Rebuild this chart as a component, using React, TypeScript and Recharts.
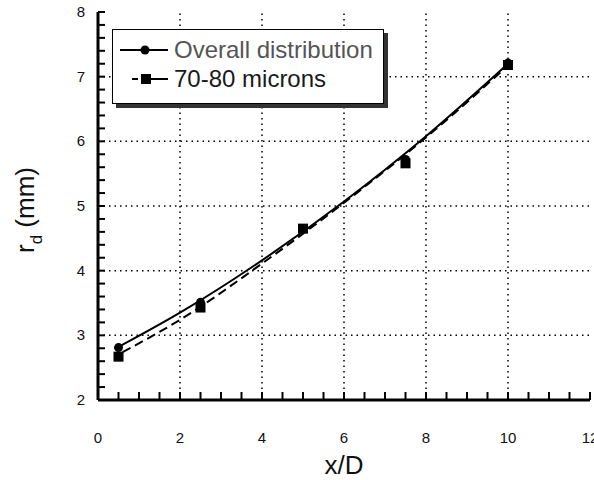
import { ComposedChart, Line, Scatter, XAxis, YAxis, ReferenceLine } from 'recharts';

// measured points
const overallPoints = [
    { x: 0.5, y: 2.81 },
    { x: 2.5, y: 3.51 },
    { x: 5, y: 4.65 },
    { x: 7.5, y: 5.72 },
    { x: 10, y: 7.21 },
];
const micronPoints = [
    { x: 0.5, y: 2.67 },
    { x: 2.5, y: 3.43 },
    { x: 5, y: 4.65 },
    { x: 7.5, y: 5.66 },
    { x: 10, y: 7.18 },
];

// fitted curves
const overallCurve = [
    { x: 0.5, y: 2.82 },
    { x: 2, y: 3.35 },
    { x: 4, y: 4.16 },
    { x: 6, y: 5.07 },
    { x: 8, y: 6.08 },
    { x: 10, y: 7.2 },
];
const micronCurve = [
    { x: 0.6, y: 2.74 },
    { x: 2, y: 3.24 },
    { x: 4, y: 4.11 },
    { x: 6, y: 5.05 },
    { x: 8, y: 6.06 },
    { x: 10, y: 7.17 },
];

const xTicks = [0, 0.5, 1, 1.5, 2, 2.5, 3, 3.5, 4, 4.5, 5, 5.5, 6, 6.5, 7, 7.5, 8, 8.5, 9, 9.5, 10, 10.5, 11, 11.5, 12];
const yTicks = [
    2, 2.2, 2.4, 2.6, 2.8, 3, 3.2, 3.4, 3.6, 3.8, 4, 4.2, 4.4, 4.6, 4.8, 5, 5.2, 5.4, 5.6, 5.8, 6, 6.2, 6.4, 6.6, 6.8, 7,
    7.2, 7.4, 7.6, 7.8, 8,
];
const xGrid = [2, 4, 6, 8, 10];
const yGrid = [3, 4, 5, 6, 7];

const font = 'Liberation Sans, Arial, sans-serif';
const isWhole = (v: number) => Math.abs(v - Math.round(v)) < 1e-6;

const BottomTick = ({ x, y, payload }: any) => (
    <g>
        <line x1={x} y1={y} x2={x} y2={y - 8} stroke="#000" strokeWidth={2} />
        {payload.value % 2 === 0 && (
            <text x={x} y={y + 43} textAnchor="middle" fontSize={15} fontFamily={font} fill="#111">
                {payload.value}
            </text>
        )}
    </g>
);

const TopTick = ({ x, y }: any) => <line x1={x} y1={y} x2={x} y2={y + 8} stroke="#000" strokeWidth={2} />;

const LeftTick = ({ x, y, payload }: any) => (
    <g>
        <line x1={x} y1={y} x2={x + 7} y2={y} stroke="#000" strokeWidth={2} />
        {isWhole(payload.value) && (
            <text x={x - 13} y={y + 5} textAnchor="end" fontSize={15} fontFamily={font} fill="#111">
                {Math.round(payload.value)}
            </text>
        )}
    </g>
);

const RightTick = ({ x, y }: any) => <line x1={x} y1={y} x2={x - 7} y2={y} stroke="#000" strokeWidth={2} />;

const YTitle = () => (
    <text transform="translate(34,210) rotate(-90)" textAnchor="middle" fontSize={26} fontFamily={font} fill="#111">
        r
        <tspan fontSize={17} dy={8}>
            d
        </tspan>
        <tspan dy={-8}> (mm)</tspan>
    </text>
);

const LegendBox = () => (
    <div
        style={{
            position: 'absolute',
            left: 112,
            top: 29,
            width: 270,
            height: 68,
            border: '1.5px solid #000',
            background: '#fff',
            boxShadow: '4px 4px 0 #333',
            fontFamily: font,
            fontSize: 24,
            lineHeight: '29px',
            paddingTop: 5,
            boxSizing: 'content-box',
        }}
    >
        <div style={{ display: 'flex', alignItems: 'center', color: '#555', height: 29 }}>
            <svg width={61} height={20} style={{ flex: 'none' }}>
                <line x1={7} y1={10} x2={55} y2={10} stroke="#000" strokeWidth={2} />
                <circle cx={32} cy={10} r={4.5} fill="#000" />
            </svg>
            <span>Overall distribution</span>
        </div>
        <div style={{ display: 'flex', alignItems: 'center', color: '#1a1a1a', height: 29 }}>
            <svg width={61} height={20} style={{ flex: 'none' }}>
                <line x1={19} y1={10} x2={25} y2={10} stroke="#000" strokeWidth={2} />
                <line x1={30} y1={10} x2={55} y2={10} stroke="#000" strokeWidth={2} />
                <rect x={28} y={5} width={10} height={10} fill="#000" />
            </svg>
            <span>70-80 microns</span>
        </div>
    </div>
);

export default function App() {
    return (
        <div style={{ position: 'absolute', left: 0, top: 0, width: 594, height: 480, background: '#fff' }}>
            <ComposedChart width={594} height={480} margin={{ top: 12, right: 4, bottom: 0, left: 0 }}>
                <XAxis
                    xAxisId="b"
                    type="number"
                    dataKey="x"
                    domain={[0, 12]}
                    ticks={xTicks}
                    interval={0}
                    height={80}
                    tickSize={0}
                    tickMargin={0}
                    tick={<BottomTick />}
                    axisLine={{ stroke: '#000', strokeWidth: 3 }}
                    allowDataOverflow
                    label={{ value: 'x/D', position: 'insideBottom', offset: 6, fontSize: 26, fontFamily: font, fill: '#111' }}
                />
                <XAxis
                    xAxisId="t"
                    orientation="top"
                    type="number"
                    dataKey="x"
                    domain={[0, 12]}
                    ticks={xTicks}
                    interval={0}
                    height={0}
                    tickSize={0}
                    tickMargin={0}
                    tick={<TopTick />}
                    axisLine={{ stroke: '#000', strokeWidth: 3 }}
                    allowDataOverflow
                />
                <YAxis
                    yAxisId="l"
                    type="number"
                    domain={[2, 8]}
                    ticks={yTicks}
                    interval={0}
                    width={98}
                    tickSize={0}
                    tickMargin={0}
                    tick={<LeftTick />}
                    axisLine={{ stroke: '#000', strokeWidth: 3 }}
                    allowDataOverflow
                    label={{ content: <YTitle /> }}
                />
                <YAxis
                    yAxisId="r"
                    orientation="right"
                    type="number"
                    domain={[2, 8]}
                    ticks={yTicks}
                    interval={0}
                    width={0}
                    tickSize={0}
                    tickMargin={0}
                    tick={<RightTick />}
                    axisLine={{ stroke: '#000', strokeWidth: 3 }}
                    allowDataOverflow
                />
                {xGrid.map((v) => (
                    <ReferenceLine key={'x' + v} x={v} xAxisId="b" yAxisId="l" stroke="#000" strokeWidth={1.5} strokeDasharray="1.5 4" />
                ))}
                {yGrid.map((v) => (
                    <ReferenceLine key={'y' + v} y={v} xAxisId="b" yAxisId="l" stroke="#000" strokeWidth={1.5} strokeDasharray="1.5 4" />
                ))}
                <Line
                    xAxisId="b"
                    yAxisId="l"
                    data={overallCurve}
                    dataKey="y"
                    type="monotone"
                    stroke="#000"
                    strokeWidth={2}
                    dot={false}
                    isAnimationActive={false}
                />
                <Line
                    xAxisId="b"
                    yAxisId="l"
                    data={micronCurve}
                    dataKey="y"
                    type="monotone"
                    stroke="#000"
                    strokeWidth={2}
                    strokeDasharray="9 5"
                    dot={false}
                    isAnimationActive={false}
                />
                <Scatter
                    xAxisId="b"
                    yAxisId="l"
                    data={overallPoints}
                    dataKey="y"
                    fill="#000"
                    shape={(p: any) => <circle cx={p.cx} cy={p.cy} r={4.5} fill="#000" />}
                    isAnimationActive={false}
                />
                <Scatter
                    xAxisId="b"
                    yAxisId="l"
                    data={micronPoints}
                    dataKey="y"
                    fill="#000"
                    shape={(p: any) => <rect x={p.cx - 5} y={p.cy - 5} width={10} height={10} fill="#000" />}
                    isAnimationActive={false}
                />
            </ComposedChart>
            <LegendBox />
        </div>
    );
}
